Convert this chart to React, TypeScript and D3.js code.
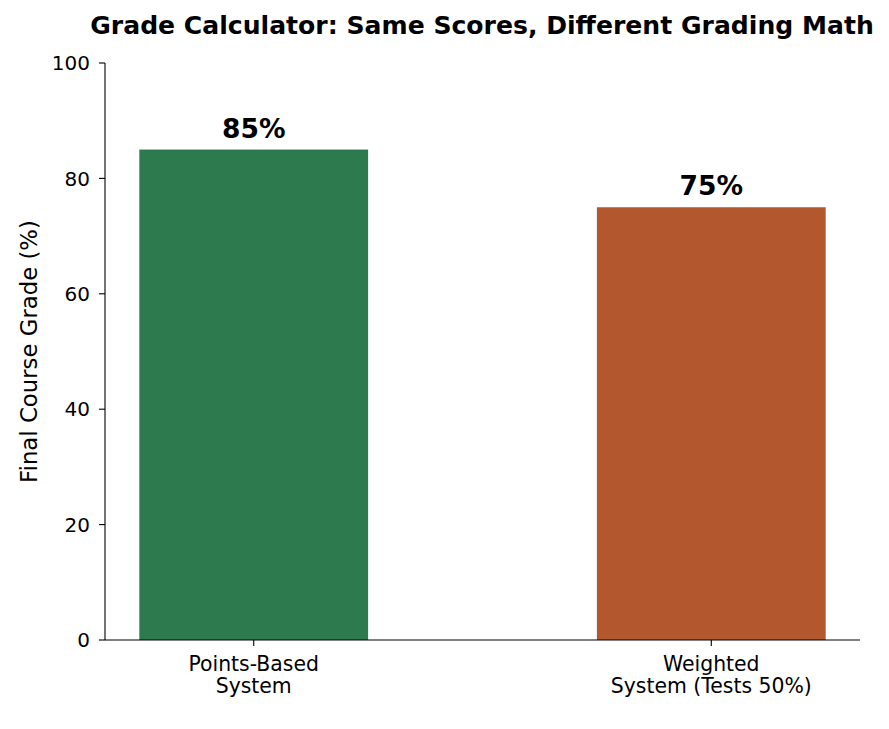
import React from "react";
import * as d3 from "d3";

const categories = ["Points-Based\nSystem", "Weighted\nSystem (Tests 50%)"];
const grades = [85, 75];
const colors = ["#2e7a4f", "#b3572e"];
const yTicks = [0, 20, 40, 60, 80, 100];

const W = 889, H = 729;
const left = 105, right = 860, top = 63, bottom = 640;

export default function App() {
  const x = d3.scaleLinear().domain([-0.325, 1.325]).range([left, right]);
  const y = d3.scaleLinear().domain([0, 100]).range([bottom, top]);
  const bw = x(0.5) - x(0);
  const font = "DejaVu Sans, sans-serif";
  return (
    <svg width={W} height={H} style={{ position: "absolute", left: 0, top: 0 }} fontFamily={font}>
      <rect width={W} height={H} fill="#fff" />
      <text x={482} y={34} textAnchor="middle" fontSize={25.1} fontWeight="bold">
        Grade Calculator: Same Scores, Different Grading Math
      </text>
      {grades.map((g, i) => (
        <g key={i}>
          <rect x={x(i) - bw / 2} y={y(g)} width={bw} height={y(0) - y(g)} fill={colors[i]} />
          <text x={x(i)} y={y(g) - 12} textAnchor="middle" fontSize={26.5} fontWeight="bold">
            {g}%
          </text>
        </g>
      ))}
      <line x1={left} x2={left} y1={top} y2={bottom} stroke="#000" strokeWidth={1.1} />
      <line x1={left} x2={right} y1={bottom} y2={bottom} stroke="#000" strokeWidth={1.1} />
      {yTicks.map((t) => (
        <g key={t}>
          <line x1={left - 6} x2={left} y1={y(t)} y2={y(t)} stroke="#000" strokeWidth={1.1} />
          <text x={left - 15} y={y(t)} dy="0.36em" textAnchor="end" fontSize={20}>
            {t}
          </text>
        </g>
      ))}
      {categories.map((c, i) => (
        <g key={i}>
          <line x1={x(i)} x2={x(i)} y1={bottom} y2={bottom + 6} stroke="#000" strokeWidth={1.1} />
          {c.split("\n").map((ln, j) => (
            <text key={j} x={x(i)} y={bottom + 31 + j * 22} textAnchor="middle" fontSize={20.4}>
              {ln}
            </text>
          ))}
        </g>
      ))}
      <text
        transform={`translate(37, ${(top + bottom) / 2}) rotate(-90)`}
        textAnchor="middle"
        fontSize={22.8}
      >
        Final Course Grade (%)
      </text>
    </svg>
  );
}
